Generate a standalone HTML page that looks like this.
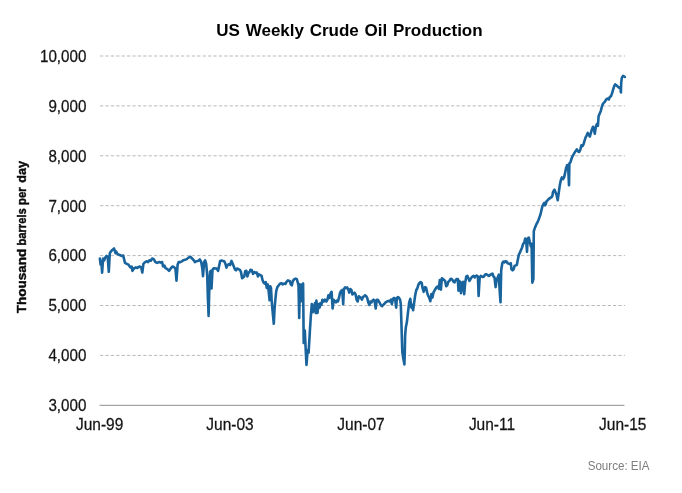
<!DOCTYPE html>
<html><head><meta charset="utf-8"><title>US Weekly Crude Oil Production</title>
<style>
html,body{margin:0;padding:0;background:#fff;}
svg{display:block;font-family:"Liberation Sans",Arial,sans-serif;}
.g line{stroke:#b9b9b9;stroke-width:1;stroke-dasharray:3.3 2.1;}
.t{font-size:15.5px;fill:#151515;stroke:#151515;stroke-width:0.25;}
</style></head><body>
<svg width="682" height="493" viewBox="0 0 682 493">
<rect width="682" height="493" fill="#fff"/>
<text x="349.5" y="35.5" text-anchor="middle" font-size="17" font-weight="bold" fill="#000" word-spacing="1">US Weekly Crude Oil Production</text>
<g class="g"><line x1="100" x2="625" y1="56.0" y2="56.0"/><line x1="100" x2="625" y1="105.9" y2="105.9"/><line x1="100" x2="625" y1="155.8" y2="155.8"/><line x1="100" x2="625" y1="205.7" y2="205.7"/><line x1="100" x2="625" y1="255.6" y2="255.6"/><line x1="100" x2="625" y1="305.5" y2="305.5"/><line x1="100" x2="625" y1="355.4" y2="355.4"/></g>
<line x1="99.5" x2="624.5" y1="405.3" y2="405.3" stroke="#8f8f8f" stroke-width="1"/>
<g class="t"><text transform="translate(86.4,61.8) scale(1,1.09)" font-size="15.2" text-anchor="end">10,000</text><text transform="translate(86.4,111.7) scale(1,1.09)" font-size="15.2" text-anchor="end">9,000</text><text transform="translate(86.4,161.6) scale(1,1.09)" font-size="15.2" text-anchor="end">8,000</text><text transform="translate(86.4,211.5) scale(1,1.09)" font-size="15.2" text-anchor="end">7,000</text><text transform="translate(86.4,261.4) scale(1,1.09)" font-size="15.2" text-anchor="end">6,000</text><text transform="translate(86.4,311.3) scale(1,1.09)" font-size="15.2" text-anchor="end">5,000</text><text transform="translate(86.4,361.2) scale(1,1.09)" font-size="15.2" text-anchor="end">4,000</text><text transform="translate(86.4,411.1) scale(1,1.09)" font-size="15.2" text-anchor="end">3,000</text></g>
<g class="t"><text transform="translate(99.6,430.4) scale(1,1.06)" text-anchor="middle">Jun-99</text><text transform="translate(230,430.4) scale(1,1.06)" text-anchor="middle">Jun-03</text><text transform="translate(361,430.4) scale(1,1.06)" text-anchor="middle">Jun-07</text><text transform="translate(492,430.4) scale(1,1.06)" text-anchor="middle">Jun-11</text><text transform="translate(622.7,430.4) scale(1,1.06)" text-anchor="middle">Jun-15</text></g>
<g transform="translate(26.4,0) rotate(-90)" font-size="13" font-weight="bold" fill="#0a0a0a" stroke="#0a0a0a" stroke-width="0.4"><text x="-313.3" y="0" textLength="64.6" lengthAdjust="spacingAndGlyphs">Thousand</text><text x="-245.6" y="0" textLength="37.4" lengthAdjust="spacingAndGlyphs">barrels</text><text x="-204.9" y="0" textLength="17.6" lengthAdjust="spacingAndGlyphs">per</text><text x="-182.7" y="0" textLength="21.7" lengthAdjust="spacingAndGlyphs">day</text></g>
<text transform="translate(649.5,470.2) scale(1,1.05)" text-anchor="end" font-size="11.6" fill="#7d7d7d">Source: EIA</text>
<path d="M99.9,258.5 L100.6,264.7 L101.4,261.2 L102.1,272.6 L103.1,258.5 L104.2,260.3 L105.2,257.6 L106.6,255.9 L107.7,256.8 L108.8,271.8 L109.8,253.2 L110.9,251.5 L112.6,249.7 L114.1,248.5 L115.5,253.2 L116.2,251.5 L117.6,254.1 L119.7,255.0 L121.5,255.9 L123.2,255.5 L125.0,262.9 L126.8,263.8 L128.5,264.7 L130.3,267.4 L131.7,266.5 L132.4,270.9 L134.2,268.2 L135.9,267.4 L137.4,267.9 L139.5,266.5 L141.2,267.4 L142.3,272.6 L143.4,263.8 L145.1,262.1 L146.9,261.2 L147.9,262.1 L149.4,260.3 L150.8,260.8 L152.2,258.5 L153.9,259.4 L155.4,262.1 L157.1,262.9 L158.9,262.1 L160.6,262.6 L162.1,262.1 L163.1,266.5 L164.5,265.6 L165.6,268.2 L167.4,269.1 L169.1,270.9 L170.9,268.2 L172.6,266.5 L174.4,267.4 L175.5,269.1 L176.5,280.6 L177.6,264.7 L178.6,262.1 L180.4,262.1 L182.2,261.2 L183.2,260.3 L185.0,259.8 L186.8,259.1 L188.5,257.6 L190.3,256.8 L192.1,258.5 L193.8,260.3 L194.9,262.1 L196.6,261.2 L198.4,260.8 L199.8,259.4 L201.2,262.1 L202.3,268.2 L203.0,276.2 L204.1,262.1 L205.1,260.3 L206.2,263.8 L207.2,275.3 L207.9,298.2 L208.6,315.9 L209.4,284.1 L210.1,271.8 L210.8,270.9 L211.5,288.5 L212.5,270.0 L213.6,268.2 L216.6,268.5 L218.1,270.8 L219.1,265.9 L220.2,260.9 L221.6,260.6 L223.0,260.9 L224.4,261.5 L225.5,264.1 L226.5,267.6 L227.6,265.0 L229.0,264.1 L230.1,265.0 L231.5,260.9 L232.5,263.2 L233.6,265.9 L235.0,269.4 L236.1,270.3 L237.1,268.5 L238.5,269.1 L239.9,269.8 L241.0,272.1 L242.1,278.2 L243.1,277.4 L244.2,276.5 L245.2,271.2 L246.3,270.8 L247.4,276.5 L248.4,272.9 L249.5,272.1 L250.5,269.8 L251.9,270.3 L253.0,273.8 L254.4,272.1 L255.8,272.9 L256.9,272.6 L257.9,276.5 L259.0,274.4 L260.4,275.1 L261.5,275.6 L262.5,280.0 L263.6,282.6 L264.6,283.5 L265.7,282.1 L266.8,287.9 L267.8,284.4 L268.5,289.7 L269.6,300.3 L270.3,286.2 L271.0,287.9 L271.7,301.2 L272.8,313.5 L273.8,323.8 L274.5,310.0 L275.2,301.2 L276.3,290.6 L277.4,287.1 L278.8,285.3 L280.2,283.5 L281.6,283.2 L282.6,284.4 L284.1,283.5 L285.5,283.9 L286.5,281.8 L287.9,280.4 L289.7,280.9 L290.8,284.4 L291.8,285.3 L292.9,280.9 L294.3,279.1 L295.7,278.6 L296.8,279.1 L297.8,282.6 L298.5,285.3 L299.2,317.9 L299.9,284.4 L301.0,285.3 L301.7,301.2 L302.4,284.4 L303.1,283.5 L303.7,342.9 L304.8,330.6 L305.8,351.8 L306.5,365.0 L307.6,350.0 L308.6,352.6 L309.7,334.1 L310.8,316.5 L311.8,304.1 L312.9,312.1 L313.9,306.8 L315.0,303.2 L315.7,312.9 L316.4,300.6 L317.5,312.9 L318.5,304.1 L319.6,307.6 L320.3,303.2 L321.4,305.0 L322.4,299.7 L323.8,301.5 L324.9,299.7 L326.3,301.5 L327.4,299.7 L328.4,295.3 L329.5,297.9 L330.5,293.5 L331.6,291.8 L332.6,308.5 L333.7,299.7 L334.8,301.5 L335.8,302.4 L336.9,300.6 L337.9,301.5 L339.0,297.9 L340.1,292.6 L341.1,290.9 L342.2,290.0 L343.2,304.1 L343.9,289.1 L345.0,287.4 L346.1,288.2 L347.1,287.4 L348.2,289.1 L349.2,292.6 L350.3,289.1 L351.4,290.0 L352.4,294.4 L353.5,293.5 L354.5,292.6 L355.6,294.4 L356.6,299.7 L357.7,301.5 L358.8,296.2 L359.8,297.1 L360.9,297.9 L361.9,299.7 L363.0,297.1 L364.1,296.2 L365.1,295.3 L366.2,296.2 L367.2,297.9 L368.3,302.4 L369.4,305.0 L370.4,301.5 L371.5,302.4 L372.5,300.6 L373.6,299.7 L374.6,300.6 L375.7,308.5 L376.8,299.7 L377.8,299.7 L378.9,301.5 L379.9,303.2 L381.0,305.5 L382.1,306.2 L383.1,305.0 L384.2,304.1 L385.6,302.4 L387.0,301.5 L388.4,300.9 L389.8,301.5 L390.9,299.7 L391.9,304.1 L393.0,298.8 L394.1,297.9 L395.1,298.8 L396.2,307.6 L396.9,297.9 L397.9,297.1 L399.0,297.9 L400.1,299.7 L400.8,304.1 L401.6,329.1 L402.3,352.1 L403.4,359.1 L404.4,364.4 L404.8,352.1 L405.1,336.2 L405.8,327.4 L406.9,322.1 L407.9,313.2 L409.2,302.4 L410.3,298.8 L411.4,307.6 L412.4,305.0 L413.1,310.3 L414.2,302.4 L415.2,295.3 L416.3,290.0 L417.4,288.2 L418.4,284.7 L419.5,282.9 L420.5,282.1 L421.6,282.6 L422.6,288.2 L423.7,291.8 L424.8,287.4 L425.0,287.1 L426.1,287.9 L427.1,292.4 L428.2,295.9 L429.2,297.6 L430.3,301.2 L431.4,294.1 L432.4,297.6 L433.5,292.4 L434.5,290.6 L435.6,288.8 L436.6,287.1 L437.7,286.5 L438.8,288.8 L439.8,280.0 L440.9,289.7 L441.9,278.2 L443.0,279.1 L444.1,280.0 L445.1,280.9 L446.2,286.2 L447.2,285.3 L448.3,281.8 L449.4,280.9 L450.4,279.1 L451.5,278.8 L452.5,280.0 L453.6,281.8 L454.6,282.3 L455.7,280.0 L456.8,279.1 L457.8,279.1 L458.5,290.6 L459.2,280.9 L459.9,281.8 L461.0,293.2 L462.1,282.6 L463.1,281.8 L464.2,294.1 L465.2,282.6 L466.3,276.5 L467.4,275.9 L468.4,278.2 L469.5,280.9 L470.5,279.1 L471.6,277.4 L472.6,276.5 L473.7,275.9 L474.8,277.4 L475.8,275.9 L476.9,275.6 L477.9,276.5 L478.6,295.9 L479.7,277.4 L480.8,275.9 L481.8,276.5 L482.9,277.0 L483.9,276.5 L485.0,274.7 L486.1,274.2 L487.1,274.7 L488.2,275.6 L489.2,275.9 L490.3,274.7 L491.4,274.2 L492.4,273.5 L493.5,276.5 L494.5,277.4 L495.6,287.1 L496.6,280.0 L497.7,277.4 L498.8,274.7 L499.5,287.9 L500.5,302.1 L501.2,270.3 L502.3,263.2 L503.4,261.5 L504.4,262.4 L505.5,261.1 L506.5,261.5 L507.6,263.2 L508.6,263.6 L509.7,264.1 L510.8,263.2 L511.5,269.4 L512.5,270.3 L513.6,269.4 L514.6,265.9 L515.7,265.4 L516.8,265.0 L517.8,259.7 L518.9,254.4 L519.9,252.6 L521.0,250.0 L522.1,247.4 L523.1,243.8 L524.2,242.9 L525.2,238.5 L526.3,242.1 L527.0,251.8 L527.7,238.5 L528.8,237.6 L529.8,242.1 L530.9,246.5 L531.6,243.8 L532.3,282.6 L533.4,279.1 L533.8,231.2 L535.0,227.6 L536.2,224.7 L537.4,222.4 L538.5,220.0 L539.5,217.1 L540.4,214.7 L541.1,211.8 L541.8,208.8 L542.5,205.9 L543.5,204.1 L544.4,202.9 L545.1,205.3 L545.8,204.1 L546.5,201.2 L547.5,200.4 L548.4,199.4 L549.4,198.5 L550.3,198.0 L551.5,197.1 L552.4,195.9 L552.9,192.4 L553.8,190.6 L554.5,189.7 L555.6,192.4 L556.6,195.0 L557.7,200.3 L558.8,192.4 L559.8,185.3 L560.9,180.0 L561.9,177.4 L563.0,179.1 L564.1,177.4 L565.1,172.9 L566.2,167.6 L567.2,165.0 L568.3,169.4 L569.0,185.3 L569.4,163.2 L570.4,162.4 L571.5,158.8 L572.5,156.2 L573.6,154.4 L574.6,152.6 L575.7,150.9 L576.8,149.4 L578.2,151.5 L579.2,152.0 L580.3,149.7 L581.4,145.3 L582.4,146.2 L583.5,144.4 L584.5,140.9 L585.6,137.4 L586.6,135.6 L587.7,132.9 L588.8,134.7 L589.8,136.5 L590.9,132.9 L591.9,129.4 L593.0,126.8 L594.1,130.3 L594.8,133.8 L595.8,126.8 L596.9,124.1 L597.9,125.9 L598.6,116.2 L599.7,113.5 L600.8,110.9 L601.5,108.2 L602.5,104.7 L603.6,102.9 L604.6,102.1 L605.7,100.3 L606.8,98.9 L607.8,98.5 L608.9,99.4 L609.9,96.8 L611.0,96.4 L612.1,93.2 L613.1,89.7 L614.2,86.2 L615.2,84.4 L616.3,85.3 L617.4,86.2 L618.4,87.1 L619.5,87.9 L620.5,88.8 L620.9,92.4 L621.2,82.6 L621.9,77.4 L623.0,75.9 L624.1,76.5 L624.8,77.0" fill="none" stroke="#19649d" stroke-width="2.6" stroke-linejoin="round" stroke-linecap="round"/>
</svg>
</body></html>
